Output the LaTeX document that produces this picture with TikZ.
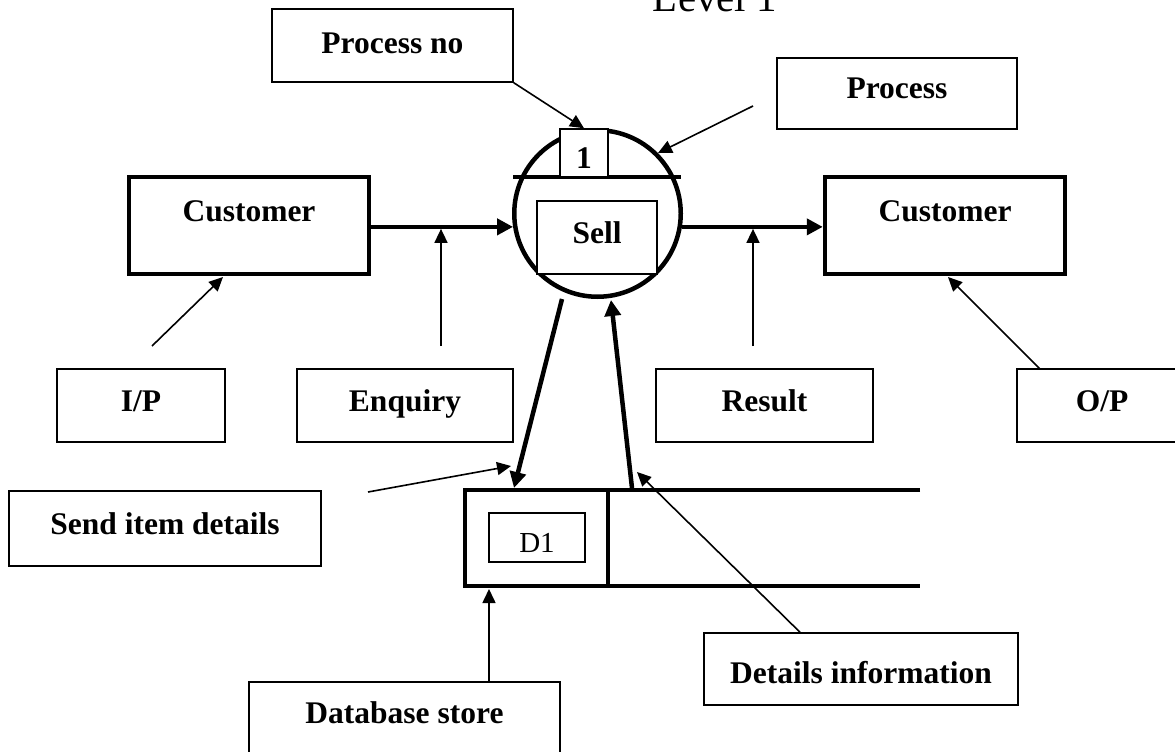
\documentclass[tikz,border=0pt]{standalone}
\usepackage{fontspec}
\setmainfont{Liberation Serif}
\usetikzlibrary{arrows.meta}
\begin{document}
\begin{tikzpicture}[x=1pt,y=-1pt,
    lbl/.style={rectangle, draw, line width=1.5pt, fill=white, inner sep=0pt, font=\fontsize{31.5}{36}\selectfont\bfseries},
    ent/.style={lbl, line width=4.5pt},
    flow/.style={line width=4.5pt, -{Triangle[length=16pt,width=16pt]}},
    ptr/.style={line width=1.6pt, -{Triangle[length=14pt,width=13pt]}}]
\useasboundingbox (0,0) rectangle (1175,752);

        \node[anchor=base, font=\fontsize{41}{46}\selectfont] (title) at (715,12) {Level 1};

        \node[circle, draw, line width=4.5pt, minimum size=166.5pt, inner sep=0pt] (proc) at (597.5,213.5) {};
        \draw[line width=4pt] (513,177) -- (681,177);
        \node[lbl, minimum width=48pt, text height=39pt, text depth=9pt] (one) at (584,153) {1};
        \node[lbl, minimum width=120pt, text height=42pt, text depth=31pt] (sell) at (597,237.5) {Sell};

        \node[lbl, minimum width=241pt, text height=44pt, text depth=29pt] (pno) at (392.5,45.5) {Process no};
        \node[lbl, minimum width=240pt, text height=41pt, text depth=30pt] (pname) at (897,93.5) {Process};
        \node[ent, minimum width=240pt, text height=44pt, text depth=53pt] (lcust) at (249,225.5) {Customer};
        \node[ent, minimum width=240pt, text height=44pt, text depth=53pt] (rcust) at (945,225.5) {Customer};
        \node[lbl, minimum width=168pt, text height=42pt, text depth=31pt] (ip) at (141,405.5) {I/P};
        \node[lbl, minimum width=216pt, text height=42pt, text depth=31pt] (enq) at (405,405.5) {Enquiry};
        \node[lbl, minimum width=217pt, text height=42pt, text depth=31pt] (res) at (764.5,405.5) {Result};
        \node[lbl, minimum width=170pt, text height=42pt, text depth=31pt] (op) at (1102,405.5) {O/P};
        \node[lbl, minimum width=312pt, text height=43pt, text depth=32pt] (send) at (165,528.5) {Send item details};
        \node[lbl, minimum width=314pt, text height=50pt, text depth=22pt] (det) at (861,669) {Details information};
        \node[lbl, minimum width=311pt, text height=41pt, text depth=32pt] (db) at (404.5,718.5) {Database store};

        \draw[line width=4.5pt] (920,490) -- (465,490) -- (465,586) -- (920,586);
        \draw[line width=4.5pt] (608,490) -- (608,586);
        \node[lbl, font=\fontsize{29}{34}\selectfont, minimum width=96pt, text height=39pt, text depth=10pt] (d1) at (537,537.5) {D1};

        \coordinate (ipfoot) at (152,346);
        \coordinate (iptip) at (223,277);
        \coordinate (opfoot) at (1040,369);
        \coordinate (optip) at (948,277);
        \coordinate (enqfoot) at (441,346);
        \coordinate (resfoot) at (753,346);
        \coordinate (pfoot) at (753,106);
        \coordinate (sendfoot) at (368,492);
        \coordinate (sendtip) at (511,466);
        \coordinate (outfoot) at (562,299);
        \coordinate (outtip) at (514,488);
        \coordinate (backfoot) at (632,488);
        \coordinate (backtip) at (611,300);
        \coordinate (dettip) at (637,472);

        \draw[flow] (lcust.east |- proc.189) -- (proc.189);
        \draw[flow] (proc.-9) -- (rcust.west |- proc.-9);
        \draw[flow] (outfoot) -- (outtip);
        \draw[flow] (backfoot) -- (backtip);

        \draw[ptr] (enqfoot) -- ([yshift=-2pt]enqfoot |- proc.189);
        \draw[ptr] (resfoot) -- ([yshift=-2pt]resfoot |- proc.-9);
        \draw[ptr] (ipfoot) -- (iptip);
        \draw[ptr] (opfoot) -- (optip);
        \draw[ptr] (pno.south east) -- (one.north);
        \draw[ptr] (pfoot) -- (proc.45);
        \draw[ptr] (sendfoot) -- (sendtip);
        \draw[ptr] (det.north -| 800,0) -- (dettip);
        \draw[ptr] (db.north -| 489,0) -- (489,589);
\end{tikzpicture}
\end{document}
